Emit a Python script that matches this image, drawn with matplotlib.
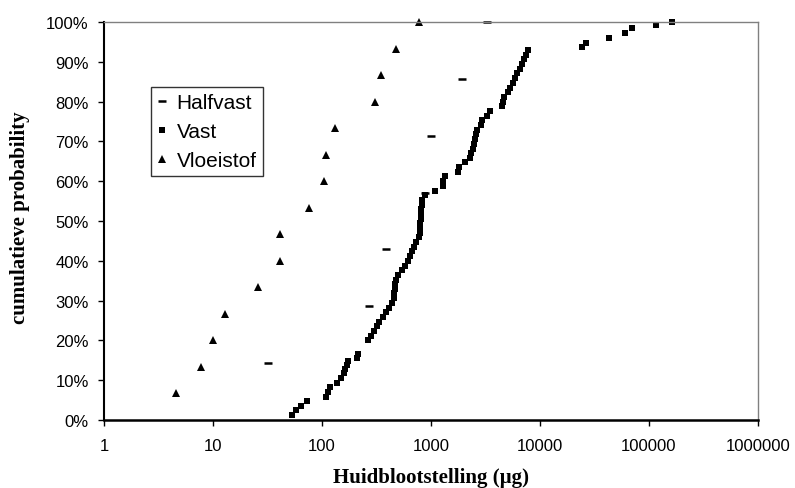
import matplotlib
matplotlib.use("Agg")
import matplotlib.pyplot as plt
from matplotlib.ticker import PercentFormatter, FixedLocator, FixedFormatter, NullLocator

# --- data ---
halfvast_x = [32, 272, 387, 881, 1000, 1920, 3240]
halfvast_y = [14.3, 28.6, 42.9, 57.1, 71.4, 85.7, 100]

vloeistof_x = [4.6, 7.8, 10.1, 12.9, 26, 41, 41, 76, 104, 108, 133, 306, 345, 477, 782]
vloeistof_y = [6.7, 13.3, 20.0, 26.7, 33.3, 40.0, 46.7, 53.3, 60.0, 66.7, 73.3, 80.0, 86.7, 93.3, 100]

vast_x = [53, 58, 64, 73,
          109, 114, 118, 136, 150, 158, 164, 168, 172, 208, 212,
          266, 280, 298, 318, 335, 360, 385, 415, 440, 455, 462, 466, 470, 474, 500,
          545, 580, 610, 640, 665, 700, 735, 770, 790, 795, 800, 805, 810, 815, 820, 830,
          880, 1090, 1290, 1300, 1340, 1770, 1800, 2050, 2280, 2350, 2420, 2460, 2540,
          2600, 2650, 2850, 2950, 3250, 3450, 4450, 4550, 4700, 5100, 5350, 5600, 5900,
          6100, 6500, 6800, 7200, 7500, 7800,
          24150, 26400, 43250, 60640, 70300, 115200, 163700]
vast_y = [1.2, 2.4, 3.5, 4.7,
          5.9, 7.1, 8.2, 9.4, 10.6, 11.8, 12.9, 13.8, 14.7, 15.6, 16.5,
          20.0, 21.2, 22.4, 23.5, 24.7, 25.9, 27.1, 28.2, 29.4, 30.6, 31.8, 32.9, 34.1, 35.3, 36.5,
          37.6, 38.8, 40.0, 41.2, 42.4, 43.5, 44.7, 45.9, 47.1, 48.2, 49.4, 50.6, 51.8, 52.9, 54.1, 55.3,
          56.5, 57.6, 58.8, 60.0, 61.2, 62.4, 63.5, 64.7, 65.9, 67.1, 68.2, 69.4, 70.6,
          71.8, 72.9, 74.1, 75.3, 76.5, 77.6, 78.8, 80.0, 81.2, 82.4, 83.5, 84.7, 85.9,
          87.1, 88.2, 89.4, 90.6, 91.8, 92.9,
          93.8, 94.7, 95.9, 97.2, 98.4, 99.3, 100]

x_ticks = [1, 10, 100, 1000, 10000, 100000, 1000000]
x_ticklabels = ["1", "10", "100", "1000", "10000", "100000", "1000000"]
y_ticks = [0, 10, 20, 30, 40, 50, 60, 70, 80, 90, 100]

sans = ["Liberation Sans", "DejaVu Sans"]
serif = ["Liberation Serif", "DejaVu Serif"]

fig = plt.figure(figsize=(7.95, 4.89), dpi=100)
ax = fig.add_axes([104 / 795, 68 / 489, 654 / 795, 398 / 489])

ax.plot(halfvast_x, halfvast_y, linestyle="none", marker="_", ms=5.5, mew=1.8,
        color="black", label="Halfvast", clip_on=False)
ax.plot(vast_x, vast_y, linestyle="none", marker="s", ms=4.4, mew=0,
        color="black", label="Vast", clip_on=False)
ax.plot(vloeistof_x, vloeistof_y, linestyle="none", marker="^", ms=6, mew=0,
        color="black", label="Vloeistof", clip_on=False)

ax.set_xscale("log")
ax.set_xlim(1, 1000000)
ax.set_ylim(0, 100)
ax.xaxis.set_major_locator(FixedLocator(x_ticks))
ax.xaxis.set_major_formatter(FixedFormatter(x_ticklabels))
ax.xaxis.set_minor_locator(NullLocator())
ax.yaxis.set_major_locator(FixedLocator(y_ticks))
ax.yaxis.set_major_formatter(PercentFormatter(100, decimals=0))

ax.tick_params(axis="both", direction="out", length=4, width=1, colors="black")
ax.tick_params(axis="y", pad=7)
ax.tick_params(axis="x", pad=9)
for lab in ax.get_xticklabels() + ax.get_yticklabels():
    lab.set_family(sans)
    lab.set_fontsize(12)

ax.spines["left"].set_linewidth(1.5)
ax.spines["bottom"].set_linewidth(1.8)
ax.spines["top"].set_color("#808080")
ax.spines["right"].set_color("#808080")
ax.spines["top"].set_linewidth(1)
ax.spines["right"].set_linewidth(1)

fig.text(431 / 795, 10.5 / 489, "Huidblootstelling (µg)", ha="center", va="center",
         family=serif, fontweight="bold", fontsize=15)
fig.text(20.5 / 795, (489 - 218) / 489, "cumulatieve probability", ha="center", va="center",
         rotation=90, family=serif, fontweight="bold", fontsize=15)

leg = ax.legend(loc="upper left", bbox_to_anchor=(0.0714, 0.837), borderaxespad=0,
                prop={"family": sans, "size": 15}, frameon=True, fancybox=False,
                handlelength=0.5, handletextpad=0.45, labelspacing=0.48,
                borderpad=0.3, markerscale=1.0)
leg.get_frame().set_edgecolor("black")
leg.get_frame().set_linewidth(1)

fig.savefig("out.png", dpi=100)
